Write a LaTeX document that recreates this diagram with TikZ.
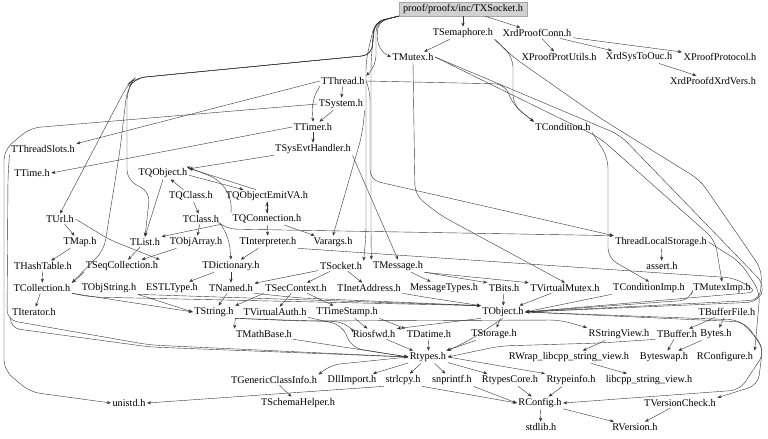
\documentclass[tikz,border=0pt]{standalone}
\usepackage{fontspec}
\setmainfont{Liberation Serif}
\usetikzlibrary{arrows.meta}

\tikzset{
  file/.style={inner sep=1.5pt, font=\fontsize{10.3}{12}\selectfont},
  rootfile/.style={file, fill=black!18, draw=black!35, inner xsep=4pt, inner ysep=2.2pt},
  dep/.style={draw=black!80, line width=0.4pt, rounded corners=10pt, -{Stealth[length=4pt,width=3.2pt]}}
}

\begin{document}
\begin{tikzpicture}[x=1bp, y=-1bp]
  \useasboundingbox (0,0) rectangle (768,439);

  % the included files, row by row
  \node[rootfile] (root) at (463,9) {proof/proofx/inc/TXSocket.h};
  \node[file] (sem) at (463,33) {TSemaphore.h};
  \node[file] (xconn) at (537,33) {XrdProofConn.h};
  \node[file] (mutex) at (413,57) {TMutex.h};
  \node[file] (xputils) at (559,57) {XProofProtUtils.h};
  \node[file] (xsysouc) at (639,57) {XrdSysToOuc.h};
  \node[file] (xproto) at (720,57) {XProofProtocol.h};
  \node[file] (thread) at (343,81) {TThread.h};
  \node[file] (xvers) at (713,81) {XrdProofdXrdVers.h};
  \node[file] (system) at (341,104) {TSystem.h};
  \node[file] (timer) at (313,127) {TTimer.h};
  \node[file] (cond) at (563,127) {TCondition.h};
  \node[file] (tslots) at (43,149) {TThreadSlots.h};
  \node[file] (sysevt) at (313,149) {TSysEvtHandler.h};
  \node[file] (ttime) at (32,173) {TTime.h};
  \node[file] (qobj) at (163,173) {TQObject.h};
  \node[file] (qclass) at (191,196) {TQClass.h};
  \node[file] (qemit) at (267,196) {TQObjectEmitVA.h};
  \node[file] (url) at (60,219) {TUrl.h};
  \node[file] (tclass) at (201,219) {TClass.h};
  \node[file] (qconn) at (267,219) {TQConnection.h};
  \node[file] (tmap) at (80,242) {TMap.h};
  \node[file] (tlist) at (145,242) {TList.h};
  \node[file] (objarr) at (196,242) {TObjArray.h};
  \node[file] (interp) at (268,242) {TInterpreter.h};
  \node[file] (varargs) at (333,242) {Varargs.h};
  \node[file] (tls) at (661,242) {ThreadLocalStorage.h};
  \node[file] (hash) at (43,266) {THashTable.h};
  \node[file] (seqcol) at (122,266) {TSeqCollection.h};
  \node[file] (dict) at (231,266) {TDictionary.h};
  \node[file] (socket) at (341,266) {TSocket.h};
  \node[file] (message) at (398,266) {TMessage.h};
  \node[file] (assert) at (662,266) {assert.h};
  \node[file] (coll) at (42,288) {TCollection.h};
  \node[file] (objstr) at (109,288) {TObjString.h};
  \node[file] (estl) at (172,288) {ESTLType.h};
  \node[file] (named) at (231,288) {TNamed.h};
  \node[file] (secctx) at (296,288) {TSecContext.h};
  \node[file] (inet) at (369,288) {TInetAddress.h};
  \node[file] (msgtypes) at (444,288) {MessageTypes.h};
  \node[file] (bits) at (504,288) {TBits.h};
  \node[file] (vmutex) at (565,288) {TVirtualMutex.h};
  \node[file] (condimp) at (649,288) {TConditionImp.h};
  \node[file] (muteximp) at (722,288) {TMutexImp.h};
  \node[file] (iter) at (34,312) {TIterator.h};
  \node[file] (string) at (214,312) {TString.h};
  \node[file] (vauth) at (275,312) {TVirtualAuth.h};
  \node[file] (tstamp) at (347,312) {TTimeStamp.h};
  \node[file] (object) at (503,312) {TObject.h};
  \node[file] (buffile) at (727,312) {TBufferFile.h};
  \node[file] (mathbase) at (264,334) {TMathBase.h};
  \node[file] (iosfwd) at (374,334) {Riosfwd.h};
  \node[file] (datime) at (429,334) {TDatime.h};
  \node[file] (storage) at (494,334) {TStorage.h};
  \node[file] (rsv) at (619,334) {RStringView.h};
  \node[file] (buffer) at (677,334) {TBuffer.h};
  \node[file] (bytes) at (716,334) {Bytes.h};
  \node[file] (rtypes) at (428,357) {Rtypes.h};
  \node[file] (rwrap) at (569,357) {RWrap\_libcpp\_string\_view.h};
  \node[file] (byteswap) at (664,357) {Byteswap.h};
  \node[file] (rconfigure) at (725,357) {RConfigure.h};
  \node[file] (gcinfo) at (274,380) {TGenericClassInfo.h};
  \node[file] (dllimport) at (352,380) {DllImport.h};
  \node[file] (strlcpy) at (403,380) {strlcpy.h};
  \node[file] (snprintf) at (452,380) {snprintf.h};
  \node[file] (rtcore) at (510,380) {RtypesCore.h};
  \node[file] (rtinfo) at (571,380) {Rtypeinfo.h};
  \node[file] (libcpp) at (649,380) {libcpp\_string\_view.h};
  \node[file] (unistd) at (129,403) {unistd.h};
  \node[file] (schema) at (298,403) {TSchemaHelper.h};
  \node[file] (rconfig) at (540,403) {RConfig.h};
  \node[file] (vcheck) at (680,403) {TVersionCheck.h};
  \node[file] (stdlib) at (541,427) {stdlib.h};
  \node[file] (rversion) at (635,427) {RVersion.h};

  % from the root file
  \draw[dep] (root) -- (sem);
  \draw[dep] (root) -- (xconn);
  \draw[dep] (root.south west) -- (377,22) -- (378,50) -- (mutex.west);
  \draw[dep] (root.south west) -- (376,22) -- (376,66) -- (thread.north east);
  \draw[dep] (root.south west) -- (374,22) -- (372,55) -- (135,78) -- (128,84) -- (url.north);
  \draw[dep] (root.south west) -- (374,22) -- (372,55) -- (135,78) -- (127,90) -- (127,180) -- (150,192) -- (tlist.north);
  \draw[dep] (root.south west) -- (374,22) -- (372,55) -- (135,78) -- (127,90) -- (120,150) -- (104,250) -- (coll.north east);
  \draw[dep] (root.south west) -- (375,22) -- (366,60) -- (366,235) -- (socket.north east);
  \draw[dep] (root.south west) -- (375,22) -- (371,60) -- (371,235) -- (message.north west);

  % proof side
  \draw[dep] (xconn) -- (xputils);
  \draw[dep] (xconn) -- (xsysouc);
  \draw[dep] (xconn) -- (xproto);
  \draw[dep] (xsysouc) -- (xvers);

  % semaphore, mutex, condition
  \draw[dep] (sem) -- (mutex);
  \draw[dep] (sem.south east) -- (513,57) -- (513,105) -- (cond.north west);
  \draw[dep] (sem.south east) -- (513,57) -- (600,118) -- (700,180) -- (762,270) -- (760,300) -- (object.east);
  \draw[dep] (mutex.south) -- (415,195) -- (440,215) -- (vmutex.north);
  \draw[dep] (mutex.east) -- (600,138) -- (715,240) -- (muteximp.north);
  \draw[dep] (mutex.east) -- (620,135) -- (765,285) -- (758,302) -- (object.east);
  \draw[dep] (cond.south east) -- (608,158) -- (608,258) -- (condimp.north);

  % thread and system
  \draw[dep] (thread) -- (system);
  \draw[dep] (thread.south west) -- (312,100) -- (timer.north);
  \draw[dep] (thread.west) -- (tslots.north east);
  \draw[dep] (thread.east) -- (505,84) -- (513,105) -- (cond.north west);
  \draw[dep] (thread.east) -- (370,90) -- (370,180) -- (tls.north west);
  \draw[dep] (system) -- (timer);
  \draw[dep] (system.west) -- (30,128) -- (4,150) -- (4,370) -- (30,392) -- (unistd.west);
  \draw[dep] (system.south east) -- (362,135) -- (varargs.north);
  \draw[dep] (timer) -- (sysevt);
  \draw[dep] (timer.west) -- (ttime.east);
  \draw[dep] (sysevt) -- (qobj);
  \draw[dep] (sysevt.south east) -- (message.north);

  % signals and slots
  \draw[dep] (qclass) -- (qobj);
  \draw[dep] (qobj.-5) -- (qemit.165);
  \draw[dep] (qemit.150) -- (qobj.10);
  \draw[dep] (qconn.north west) -- (232,200) -- (220,180) -- (qobj.15);
  \draw[dep] (qemit) -- (qconn);
  \draw[dep] (qconn) -- (qemit);
  \draw[dep] (qobj.south) -- (tlist.north);
  \draw[dep] (qclass) -- (tclass);
  \draw[dep] (tclass) -- (objarr);
  \draw[dep] (tclass.south east) -- (tlist.north east);
  \draw[dep] (tclass.south east) -- (226,229) -- (tls.north west);
  \draw[dep] (tclass.south east) -- (229,238) -- (dict.north);
  \draw[dep] (qconn) -- (interp);
  \draw[dep] (qconn) -- (varargs);
  \draw[dep] (interp) -- (dict);
  \draw[dep] (interp.south east) -- (735,278) -- (758,292) -- (object.east);

  % containers
  \draw[dep] (tlist) -- (seqcol);
  \draw[dep] (objarr) -- (seqcol);
  \draw[dep] (url) -- (tmap);
  \draw[dep] (url.east) -- (110,240) -- (seqcol.north east);
  \draw[dep] (tmap) -- (hash);
  \draw[dep] (hash) -- (coll);
  \draw[dep] (seqcol.south west) -- (coll.north east);
  \draw[dep] (coll) -- (iter);
  \draw[dep] (iter.south west) -- (10,328) -- (150,347) -- (rtypes.west);
  \draw[dep] (tslots.south west) -- (8,175) -- (7,320) -- (150,345) -- (rtypes.west);

  % dictionary and socket
  \draw[dep] (dict) -- (estl);
  \draw[dep] (dict) -- (named);
  \draw[dep] (socket) -- (named);
  \draw[dep] (socket) -- (secctx);
  \draw[dep] (socket) -- (inet);
  \draw[dep] (message) -- (msgtypes);
  \draw[dep] (message.south east) -- (bits.north west);
  \draw[dep] (message.south east) -- (vmutex.north west);

  % into TObject
  \draw[dep] (named.south east) -- (300,298) -- (object.north west);
  \draw[dep] (inet.south east) -- (430,298) -- (object.north west);
  \draw[dep] (coll.south east) -- (90,297) -- (object.north west);
  \draw[dep] (objstr.south east) -- (object.north west);
  \draw[dep] (bits) -- (object);
  \draw[dep] (vmutex) -- (object);
  \draw[dep] (condimp.south west) -- (object.east);
  \draw[dep] (muteximp.south west) -- (690,300) -- (object.east);

  % strings
  \draw[dep] (coll.south east) -- (string.west);
  \draw[dep] (objstr.south east) -- (string.west);
  \draw[dep] (named) -- (string);
  \draw[dep] (secctx.south west) -- (string.north east);
  \draw[dep] (secctx) -- (vauth);
  \draw[dep] (secctx) -- (tstamp);
  \draw[dep] (string.south east) -- (mathbase.north west);
  \draw[dep] (string.south east) -- (345,322) -- (iosfwd.north west);
  \draw[dep] (string.south east) -- (300,321) -- (560,320) -- (rsv.north west);
  \draw[dep] (tstamp) -- (iosfwd);
  \draw[dep] (tstamp.south east) -- (datime.north west);
  \draw[dep] (object) -- (storage);
  \draw[dep] (object.south west) -- (iosfwd.north east);

  % down to Rtypes
  \draw[dep] (mathbase.south east) -- (rtypes.west);
  \draw[dep] (iosfwd) -- (rtypes);
  \draw[dep] (vauth.south east) -- (342,325) -- (352,348) -- (rtypes.west);
  \draw[dep] (object.south) -- (470,340) -- (rtypes.north east);
  \draw[dep] (datime) -- (rtypes);
  \draw[dep] (storage) -- (rtypes);
  \draw[dep] (buffer.south west) -- (600,343) -- (500,346) -- (rtypes.east);

  % buffers and string views
  \draw[dep] (buffile) -- (buffer);
  \draw[dep] (buffile) -- (bytes);
  \draw[dep] (buffer) -- (byteswap);
  \draw[dep] (bytes) -- (byteswap);
  \draw[dep] (rsv) -- (rwrap);
  \draw[dep] (rwrap) -- (libcpp);
  \draw[dep] (tls) -- (assert);
  \draw[dep] (tls.east) -- (740,262) -- (760,292) -- (rconfigure.north east);

  % bottom rows
  \draw[dep] (rtypes.west) -- (330,365) -- (gcinfo.north east);
  \draw[dep] (rtypes) -- (dllimport);
  \draw[dep] (rtypes) -- (strlcpy);
  \draw[dep] (rtypes) -- (snprintf);
  \draw[dep] (rtypes) -- (rtcore);
  \draw[dep] (rtypes.east) -- (rtinfo.north west);
  \draw[dep] (gcinfo) -- (schema);
  \draw[dep] (strlcpy.south west) -- (unistd.east);
  \draw[dep] (strlcpy.south east) -- (rconfig.west);
  \draw[dep] (snprintf.south east) -- (rconfig.west);
  \draw[dep] (rtcore) -- (rconfig);
  \draw[dep] (rtinfo) -- (rconfig);
  \draw[dep] (rconfig) -- (stdlib);
  \draw[dep] (rconfig) -- (rversion);
  \draw[dep] (vcheck) -- (rversion);
  \draw[dep] (object.east) -- (740,320) -- (763,345) -- (758,385) -- (vcheck.north east);
  \draw[dep] (object.east) -- (745,322) -- (765,352) -- (740,390) -- (rconfig.east);
\end{tikzpicture}
\end{document}
